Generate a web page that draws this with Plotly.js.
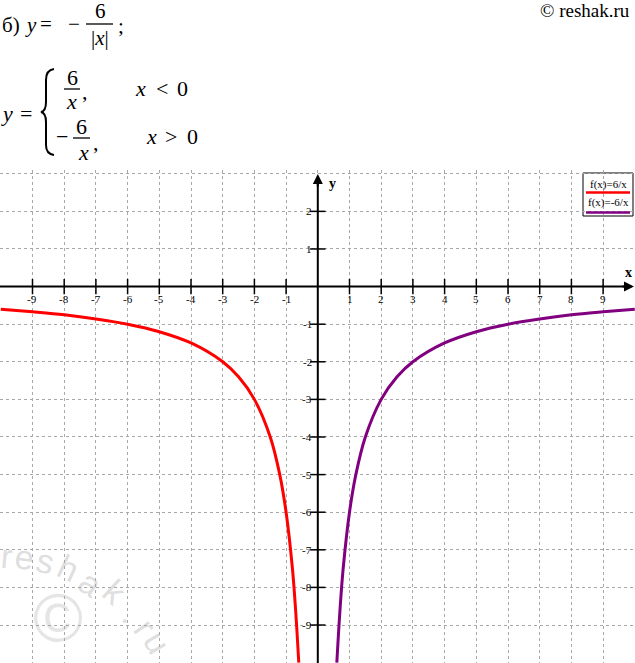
<!DOCTYPE html>
<html>
<head>
<meta charset="utf-8">
<script src="https://cdn.plot.ly/plotly-3.0.1.min.js"></script>
<style>html,body{margin:0;padding:0;background:#fff;}#chart{width:635px;height:663px;}</style>
</head>
<body>
<div id="chart"></div>
<script>
// ---- data ----
const redX = [-10, -9, -8, -7, -6, -5, -4, -3, -2.5, -2, -1.5, -1.2, -1, -0.8, -0.7, -0.6];
const redY = [-0.6, -0.67, -0.75, -0.86, -1, -1.2, -1.5, -2, -2.4, -3, -4, -5, -6, -7.5, -8.6, -10];
const purpleX = [0.6, 0.7, 0.8, 1, 1.2, 1.5, 2, 2.5, 3, 4, 5, 6, 7, 8, 9, 10];
const purpleY = [-10, -8.6, -7.5, -6, -5, -4, -3, -2.4, -2, -1.5, -1.2, -1, -0.86, -0.75, -0.67, -0.6];
const xTicks = [-9, -8, -7, -6, -5, -4, -3, -2, -1, 1, 2, 3, 4, 5, 6, 7, 8, 9];
const xTickLabels = ['-9', '-8', '-7', '-6', '-5', '-4', '-3', '-2', '-1', '1', '2', '3', '4', '5', '6', '7', '8', '9'];
const yTicks = [2, 1, -1, -2, -3, -4, -5, -6, -7, -8, -9];
const yTickLabels = ['2', '1', '-1', '-2', '-3', '-4', '-5', '-6', '-7', '-8', '-9'];
const legendLabels = ['f(x)=6/x', 'f(x)=-6/x'];
const seriesColors = ['#ff0000', '#800080'];

// ---- geometry helpers (pixel -> paper) ----
const W = 635, H = 663, T = 170;
const PX = p => p / W;
const PY = p => (H - p) / (H - T);
const SERIF = '"Liberation Serif", "Times New Roman", Times, serif';
const SANS = '"Liberation Sans", Arial, sans-serif';

const traces = [
  {x: redX, y: redY, mode: 'lines', line: {color: seriesColors[0], width: 3, shape: 'spline', smoothing: 1}, hoverinfo: 'skip', showlegend: false},
  {x: purpleX, y: purpleY, mode: 'lines', line: {color: seriesColors[1], width: 3, shape: 'spline', smoothing: 1}, hoverinfo: 'skip', showlegend: false},
  {x: xTicks, y: xTicks.map(() => 0), mode: 'markers', marker: {symbol: 'line-ns-open', size: 11, color: '#000', line: {width: 1.5, color: '#000'}}, hoverinfo: 'skip', showlegend: false},
  {x: yTicks.map(() => 0), y: yTicks, mode: 'markers', marker: {symbol: 'line-ew-open', size: 11, color: '#000', line: {width: 1.5, color: '#000'}}, hoverinfo: 'skip', showlegend: false}
];

const ann = [];
xTicks.forEach((k, i) => ann.push({x: k, y: 0, xref: 'x', yref: 'y', text: xTickLabels[i], showarrow: false, xanchor: 'center', yanchor: 'middle', yshift: -12, font: {family: SERIF, size: 11, color: '#000'}}));
yTicks.forEach((k, i) => ann.push({x: 0, y: k, xref: 'x', yref: 'y', text: yTickLabels[i], showarrow: false, xanchor: 'right', yanchor: 'middle', xshift: -4, font: {family: SERIF, size: 11, color: '#000'}}));

// axis arrows
ann.push({x: 1, y: 0, xref: 'paper', yref: 'y', ax: -14, ay: 0, showarrow: true, arrowhead: 2, arrowsize: 1, arrowwidth: 2, arrowcolor: '#000', standoff: 0, text: ''});
ann.push({x: 0, y: PY(174), xref: 'x', yref: 'paper', ax: 0, ay: 14, showarrow: true, arrowhead: 2, arrowsize: 1, arrowwidth: 2, arrowcolor: '#000', standoff: 0, text: ''});

const t = (txt, x, y, size, anchor, fam) => ann.push({x: PX(x), y: PY(y), xref: 'paper', yref: 'paper', text: txt, showarrow: false, xanchor: anchor || 'center', yanchor: 'middle', font: {family: fam || SERIF, size: size, color: '#000'}});

t('<b>x</b>', 628, 272, 14);
t('<b>y</b>', 332, 183, 14);

// legend
t(legendLabels[0], 608, 184, 11);
t(legendLabels[1], 608, 203, 11);

// formulas
t('б)', 0, 25, 21, 'left');
t('<i>y</i>', 31, 25, 21);
t('=', 46, 24, 21);
t('−', 74, 24, 21);
t('6', 100, 11, 21);
t('|<i>x</i>|', 99.5, 38, 21);
t(';', 121, 26, 21);

t('<i>y</i>', 7, 114, 22);
t('=', 26, 113, 22);
t('6', 72.5, 77, 22);
t('<i>x</i>', 71.5, 102, 22);
t(',', 85, 92, 22);
t('<i>x</i>', 140, 88, 22);
t('&lt;', 161.5, 88, 22);
t('0', 182.5, 88, 22);
t('−', 62, 137, 22);
t('6', 81.5, 127, 22);
t('<i>x</i>', 83.5, 152, 22);
t(',', 95.5, 142, 22);
t('<i>x</i>', 151.5, 137, 22);
t('&gt;', 171.5, 137, 22);
t('0', 192.5, 137, 22);

t('© reshak.ru', 632, 10, 19, 'right');

// watermark
const wm = [['r', 6, 556, 5], ['e', 24, 557, 8], ['s', 45, 561, 14], ['h', 68, 568, 25], ['a', 90, 583, 35], ['k', 115, 592, 42], ['.', 132, 614, 50], ['r', 145, 627, 55], ['u', 157, 642, 60]];
wm.forEach(w => ann.push({x: PX(w[1]), y: PY(w[2]), xref: 'paper', yref: 'paper', text: w[0], showarrow: false, xanchor: 'center', yanchor: 'middle', textangle: w[3], font: {family: SANS, size: 34, color: 'rgba(170,170,170,0.4)'}}));
ann.push({x: PX(58), y: PY(617), xref: 'paper', yref: 'paper', text: '©', showarrow: false, xanchor: 'center', yanchor: 'middle', font: {family: SANS, size: 68, color: 'rgba(170,170,170,0.3)'}});

const shapes = [];
// axes
shapes.push({type: 'line', xref: 'paper', yref: 'y', x0: 0, x1: 0.985, y0: 0, y1: 0, line: {color: '#000', width: 2}});
shapes.push({type: 'line', xref: 'x', yref: 'paper', x0: 0, x1: 0, y0: 0, y1: PY(182), line: {color: '#000', width: 2}});
// fraction bars
const bar = (x0, x1, y, w) => shapes.push({type: 'line', xref: 'paper', yref: 'paper', x0: PX(x0), x1: PX(x1), y0: PY(y), y1: PY(y), line: {color: '#000', width: w || 1.3}});
bar(86, 113, 24);
bar(64, 80, 89);
bar(73, 90, 138);
// brace
const P = (x, y) => PX(x).toFixed(5) + ',' + PY(y).toFixed(5);
shapes.push({type: 'path', xref: 'paper', yref: 'paper', line: {color: '#000', width: 2},
  path: 'M' + P(54, 69) + ' Q' + P(46, 70) + ' ' + P(46, 80) + ' L' + P(46, 102) + ' Q' + P(46, 111) + ' ' + P(41, 112) +
        ' Q' + P(46, 113) + ' ' + P(46, 122) + ' L' + P(46, 145) + ' Q' + P(46, 154) + ' ' + P(54, 155)});
// legend box and swatches
shapes.push({type: 'rect', xref: 'paper', yref: 'paper', x0: PX(583), x1: PX(633), y0: PY(216), y1: PY(173), line: {color: '#000', width: 1}, fillcolor: '#fff', layer: 'below'});
shapes.push({type: 'line', xref: 'paper', yref: 'paper', x0: PX(586), x1: PX(630), y0: PY(192.5), y1: PY(192.5), line: {color: seriesColors[0], width: 2.5}});
shapes.push({type: 'line', xref: 'paper', yref: 'paper', x0: PX(586), x1: PX(630), y0: PY(212.5), y1: PY(212.5), line: {color: seriesColors[1], width: 2.5}});

const axisBase = {showgrid: true, gridcolor: '#a8a8a8', griddash: 'dot', gridwidth: 1, zeroline: false, showticklabels: false, ticks: '', showline: false, fixedrange: true, dtick: 1, tick0: 0};
const layout = {
  width: W, height: H,
  margin: {l: 0, r: 0, t: T, b: 0, pad: 0},
  paper_bgcolor: '#fff', plot_bgcolor: '#fff',
  xaxis: Object.assign({}, axisBase, {range: [-10.025, 10.006]}),
  yaxis: Object.assign({}, axisBase, {range: [-10.01, 3.10]}),
  showlegend: false,
  annotations: ann,
  shapes: shapes
};
Plotly.newPlot('chart', traces, layout, {staticPlot: true, displayModeBar: false});
</script>
</body>
</html>
